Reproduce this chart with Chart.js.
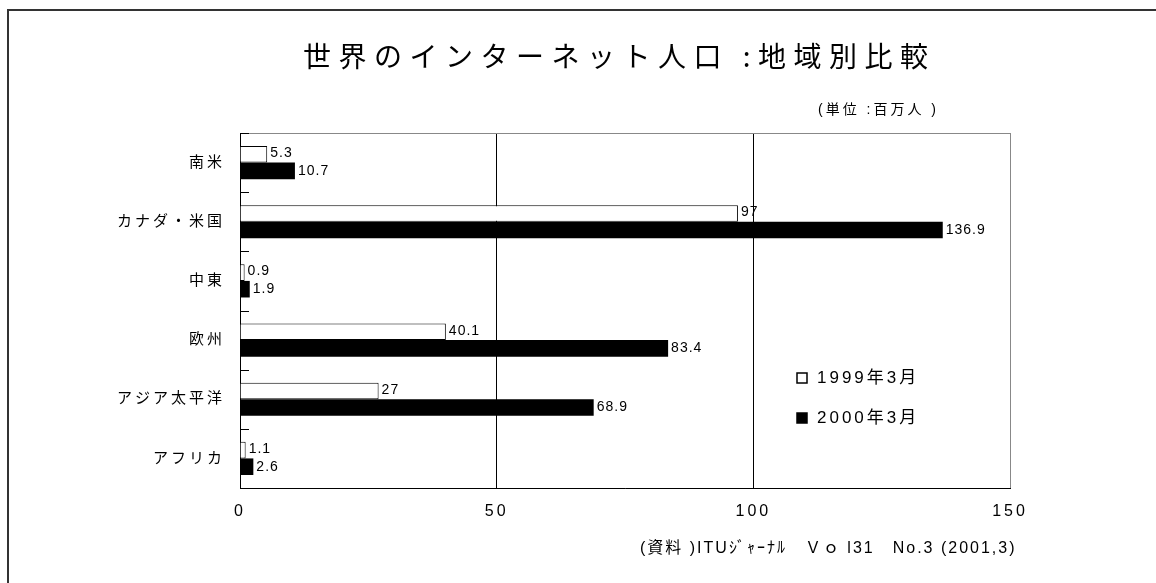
<!DOCTYPE html>
<html lang="ja">
<head>
<meta charset="utf-8">
<title>世界のインターネット人口</title>
<script src="https://cdn.jsdelivr.net/npm/chart.js@4.4.1/dist/chart.umd.min.js"></script>
<style>
  html, body { margin: 0; padding: 0; background: #fff; overflow: hidden; }
  body { width: 1156px; height: 583px; position: relative; font-family: "Liberation Sans", "Noto Sans CJK JP", sans-serif; color: #000; }
  #frame { position: absolute; left: 7px; top: 9px; width: 1200px; height: 620px; border-left: 2px solid #333; border-top: 2px solid #333; }
  #chart { position: absolute; left: 0; top: 0; }
  .txt { position: absolute; white-space: nowrap; line-height: 1; }
  #title { left: 303px; top: 41px; font-size: 28px; letter-spacing: 7.5px; font-family: "Noto Sans CJK JP", sans-serif; }
  #unit { left: 818px; top: 102px; font-size: 14px; letter-spacing: 3px; }
  #source { left: 640px; top: 540px; font-size: 16px; letter-spacing: 2px; }
</style>
</head>
<body>
<div id="frame"></div>
<canvas id="chart" width="1156" height="583"></canvas>
<div class="txt" id="title">世界のインターネット人口 :地域別比較</div>
<div class="txt" id="unit">(単位 :百万人 )</div>
<div class="txt" id="source">(資料 )ITUｼﾞｬｰﾅﾙ　Ｖｏ l31　No.3 (2001,3)</div>
<script>
  "use strict";

  // データ（単位：百万人）
  const regions = ["南米", "カナダ・米国", "中東", "欧州", "アジア太平洋", "アフリカ"];
  const mar1999 = [5.3, 97, 0.9, 40.1, 27, 1.1];
  const mar2000 = [10.7, 136.9, 1.9, 83.4, 68.9, 2.6];
  const seriesNames = ["1999年3月", "2000年3月"];
  const xMax = 150;
  const xStep = 50;

  const FONT = "'Liberation Sans', 'Noto Sans CJK JP', sans-serif";

  // 軸ラベルの字間（スケール描画の前だけ有効）
  const spacing = {
    id: "spacing",
    beforeDraw(chart) { chart.ctx.letterSpacing = "3px"; },
    beforeDatasetsDraw(chart) { chart.ctx.letterSpacing = "0px"; },
  };

  // 枠線と内側の目盛り
  const frame = {
    id: "frame",
    beforeDatasetsDraw(chart) {
      const { ctx, chartArea: a } = chart;
      const y = chart.scales.y;
      ctx.save();
      ctx.lineWidth = 1;
      ctx.strokeStyle = "#888";
      ctx.strokeRect(a.left + 0.5, a.top + 0.5, a.right - a.left, a.bottom - a.top);
      ctx.strokeStyle = "#000";
      ctx.beginPath();
      ctx.moveTo(a.left + 0.5, a.top); ctx.lineTo(a.left + 0.5, a.bottom + 1);
      ctx.moveTo(a.left, a.bottom + 0.5); ctx.lineTo(a.right + 1, a.bottom + 0.5);
      for (let i = 0; i <= regions.length; i++) {
        const py = Math.round(y.getPixelForValue(i - 0.5)) + 0.5;
        ctx.moveTo(a.left, py); ctx.lineTo(a.left + 9, py);
      }
      ctx.stroke();
      ctx.restore();
    },
  };

  // 値ラベル
  const valueLabels = {
    id: "valueLabels",
    afterDatasetsDraw(chart) {
      const ctx = chart.ctx;
      ctx.save();
      ctx.font = "14px " + FONT;
      ctx.fillStyle = "#000";
      ctx.textBaseline = "middle";
      ctx.letterSpacing = "1px";
      chart.data.datasets.forEach((ds, di) => {
        chart.getDatasetMeta(di).data.forEach((bar, i) => {
          ctx.fillText(String(ds.data[i]), bar.x + 3, bar.y + (di === 0 ? -1 : 0));
        });
      });
      ctx.restore();
    },
  };

  // 凡例（グラフ内）
  const innerLegend = {
    id: "innerLegend",
    afterDraw(chart) {
      const ctx = chart.ctx;
      ctx.save();
      ctx.font = "17px " + FONT;
      ctx.textBaseline = "middle";
      ctx.letterSpacing = "3px";
      chart.data.datasets.forEach((ds, i) => {
        const cy = 378 + i * 40;
        ctx.fillStyle = ds.backgroundColor;
        ctx.fillRect(797, cy - 5, 10, 10);
        ctx.strokeStyle = "#000";
        ctx.lineWidth = 1.5;
        ctx.strokeRect(797, cy - 5, 10, 10);
        ctx.fillStyle = "#000";
        ctx.fillText(ds.label, 817, cy);
      });
      ctx.restore();
    },
  };

  new Chart(document.getElementById("chart"), {
    type: "bar",
    data: {
      labels: regions,
      datasets: [
        { label: seriesNames[0], data: mar1999, backgroundColor: "#ffffff", borderColor: "#000", borderWidth: 1 },
        { label: seriesNames[1], data: mar2000, backgroundColor: "#000000", borderColor: "#000", borderWidth: 0 },
      ],
    },
    options: {
      indexAxis: "y",
      responsive: false,
      devicePixelRatio: 1,
      animation: false,
      categoryPercentage: 0.56,
      barPercentage: 1.0,
      layout: { padding: { left: 0, top: 133, right: 146, bottom: 0 } },
      plugins: { legend: { display: false }, tooltip: { enabled: false }, title: { display: false } },
      scales: {
        x: {
          min: 0, max: xMax,
          afterFit: (s) => { s.height = 95; },
          ticks: { stepSize: xStep, color: "#000", padding: 14, font: { family: FONT, size: 16 } },
          grid: {
            drawTicks: false,
            color: (c) => (c.tick && c.tick.value > 0 && c.tick.value < xMax ? "#000" : "rgba(0,0,0,0)"),
            lineWidth: 1,
          },
          border: { display: false },
        },
        y: {
          afterFit: (s) => { s.width = 240; },
          ticks: { color: "#000", padding: 15, font: { family: FONT, size: 15 } },
          grid: { display: false, drawTicks: false },
          border: { display: false },
        },
      },
    },
    plugins: [spacing, frame, valueLabels, innerLegend],
  });
</script>
</body>
</html>
